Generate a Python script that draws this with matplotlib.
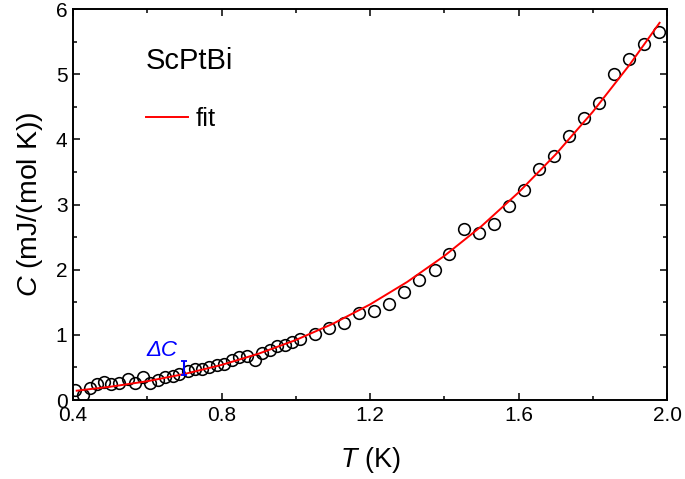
import matplotlib
matplotlib.use("Agg")
import matplotlib.pyplot as plt
from matplotlib.ticker import MultipleLocator, FormatStrFormatter

# ---- data ----
T_data = [0.406, 0.428, 0.446, 0.464, 0.483, 0.502, 0.525, 0.547, 0.568, 0.589,
          0.608, 0.628, 0.649, 0.669, 0.686, 0.709, 0.729, 0.747, 0.767, 0.788,
          0.808, 0.827, 0.848, 0.868, 0.890, 0.908, 0.931, 0.950, 0.971, 0.991,
          1.011, 1.052, 1.090, 1.130, 1.171, 1.211, 1.252, 1.292, 1.333, 1.375,
          1.414, 1.453, 1.494, 1.534, 1.574, 1.616, 1.655, 1.696, 1.737, 1.776,
          1.817, 1.857, 1.898, 1.939, 1.978]
C_data = [0.16, 0.07, 0.18, 0.25, 0.27, 0.24, 0.26, 0.32, 0.26, 0.35,
          0.26, 0.30, 0.35, 0.37, 0.40, 0.45, 0.47, 0.47, 0.50, 0.54,
          0.56, 0.61, 0.66, 0.67, 0.61, 0.72, 0.77, 0.83, 0.84, 0.89,
          0.93, 1.02, 1.10, 1.18, 1.34, 1.37, 1.47, 1.65, 1.84, 1.99,
          2.24, 2.62, 2.57, 2.70, 2.98, 3.23, 3.54, 3.75, 4.05, 4.32,
          4.56, 5.00, 5.23, 5.46, 5.65]

T_fit = [0.41, 0.50, 0.60, 0.70, 0.80, 0.90, 1.00, 1.10, 1.20, 1.30,
         1.40, 1.50, 1.60, 1.70, 1.80, 1.90, 1.98]
C_fit = [0.143, 0.203, 0.288, 0.399, 0.538, 0.711, 0.920, 1.170, 1.466, 1.811,
         2.210, 2.666, 3.184, 3.768, 4.422, 5.150, 5.788]

dC_T = [0.70]
dC_C = [0.49]
dC_err = [0.11]

x_ticks = [0.4, 0.8, 1.2, 1.6, 2.0]
y_ticks = [0, 1, 2, 3, 4, 5, 6]

# ---- style ----
plt.rcParams['font.family'] = ['Liberation Sans', 'DejaVu Sans']
plt.rcParams['mathtext.fontset'] = 'custom'
plt.rcParams['mathtext.rm'] = 'Liberation Sans'
plt.rcParams['mathtext.it'] = 'Liberation Sans:italic'

fig = plt.figure(figsize=(6.85, 4.79), dpi=100)
ax = fig.add_axes([73/685, 1-400/479, (667-73)/685, (400-9)/479])

ax.plot(T_data, C_data, linestyle='none', marker='o', markersize=8.4,
        markerfacecolor='none', markeredgecolor='black', markeredgewidth=1.15,
        zorder=2)
ax.plot(T_fit, C_fit, color='red', linewidth=1.4, label='fit', zorder=3)

ax.errorbar(dC_T, dC_C, yerr=dC_err, fmt='none', ecolor='blue',
            elinewidth=1.5, capsize=2.5, capthick=1.3, zorder=4)
ax.text(0.598, 0.68, 'ΔC', color='blue', fontsize=16, style='italic',
        ha='left', va='baseline')

ax.text((145.7-73)/594, 0.8465, 'ScPtBi', transform=ax.transAxes,
        fontsize=21, ha='left', va='baseline')

leg = ax.legend(loc='center left', bbox_to_anchor=((146-73)/594, 0.7187),
                frameon=False, fontsize=18.5, handlelength=1.65,
                handletextpad=0.3, borderpad=0, borderaxespad=0)

ax.set_xlim(0.4, 2.0)
ax.set_ylim(0, 6)
ax.set_xticks(x_ticks)
ax.set_yticks(y_ticks)
ax.xaxis.set_major_formatter(FormatStrFormatter('%.1f'))
ax.yaxis.set_major_formatter(FormatStrFormatter('%d'))
ax.xaxis.set_minor_locator(MultipleLocator(0.2))
ax.yaxis.set_minor_locator(MultipleLocator(0.5))
ax.tick_params(which='both', direction='in', top=True, right=True,
               labelsize=15, width=1.1)
ax.tick_params(which='major', length=5, pad=4)
ax.tick_params(axis='x', which='major', pad=4.5)
ax.tick_params(which='minor', length=3)
for s in ax.spines.values():
    s.set_linewidth(1.4)

ax.set_xlabel(r'$T$ (K)', fontsize=19.5, labelpad=14)
ax.set_ylabel(r'$C$ (mJ/(mol K))', fontsize=20.5, labelpad=8)

fig.savefig('out.png', dpi=100)
